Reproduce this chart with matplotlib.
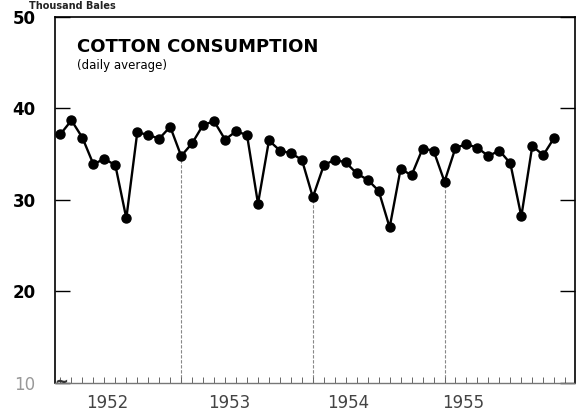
# Cotton consumption chart, monthly, Jan 1952 - Oct 1955
import matplotlib.pyplot as plt

# Data (thousand bales, daily average)
months = list(range(46))  # 0 = Jan 1952
consumption = [
    37.2, 38.7, 36.8, 33.9, 34.5, 33.8, 28.0, 37.4, 37.1, 36.7, 38.0, 34.8,
    36.2, 38.2, 38.6, 36.6, 37.5, 37.1, 29.6, 36.5, 35.4, 35.1, 34.4, 30.3,
    33.8, 34.4, 34.1, 32.9, 32.2, 31.0, 27.0, 33.4, 32.7, 35.6, 35.4, 32.0,
    35.7, 36.1, 35.7, 34.8, 35.4, 34.0, 28.2, 35.9, 34.9, 36.8,
]
year_labels = ["1952", "1953", "1954", "1955"]
year_label_pos = [4.3, 15.4, 26.2, 36.7]
december_idx = [11, 23, 35]
y_ticks = [10, 20, 30, 40, 50]

plt.rcParams["font.family"] = ["DejaVu Sans"]

fig = plt.figure(figsize=(5.87, 4.16), dpi=100)
ax = fig.add_axes([0.0937, 0.0793, 0.886, 0.880])

# December drop lines down to the base
ax.vlines(december_idx, 10, [consumption[i] for i in december_idx],
          colors="#888888", linewidth=0.8, linestyles=(0, (3, 1.5)), zorder=1)

ax.plot(months, consumption, color="black", linewidth=1.7, marker="o",
        markersize=6.5, zorder=3)

ax.set_xlim(-0.5, 46.9)
ax.set_ylim(10, 50)

# y axis ticks on both sides pointing inward
ax.set_yticks(y_ticks)
ax.set_yticklabels([str(v) for v in y_ticks], fontsize=12, fontweight="semibold")
for lbl in ax.get_yticklabels():
    if lbl.get_text() == "10":
        lbl.set_color("#999999")
        lbl.set_fontweight("normal")
ax.tick_params(axis="y", which="major", direction="in", length=11, width=1.0,
               right=True, pad=14)

# x axis: year labels and small monthly ticks
ax.set_xticks(year_label_pos)
ax.set_xticklabels(year_labels, fontsize=12, color="#444444")
ax.tick_params(axis="x", which="major", length=0, pad=8)
ax.set_xticks(months + [46], minor=True)
ax.tick_params(axis="x", which="minor", direction="in", length=4,
               width=0.7, color="#666666")

for side in ("left", "top", "right"):
    ax.spines[side].set_linewidth(1.2)
ax.spines["bottom"].set_color("#777777")
ax.spines["bottom"].set_linestyle((0, (2, 1)))
ax.spines["bottom"].set_linewidth(1.0)

# axis break squiggle at the start of the base line
ax.text(0.1, 10.1, "~", fontsize=12, fontweight="bold", ha="center",
        va="center", color="#333333")

# titles
ax.text(0.042, 0.918, "COTTON CONSUMPTION", transform=ax.transAxes,
        fontsize=13, fontweight="bold", va="center", ha="left")
ax.text(0.042, 0.868, "(daily average)", transform=ax.transAxes,
        fontsize=8.5, va="center", ha="left")

# unit label at the top of the page
fig.text(0.05, 0.998, "Thousand Bales", fontsize=7, fontweight="bold",
         va="top", ha="left", color="#222222")

fig.savefig("out.png", dpi=100)
